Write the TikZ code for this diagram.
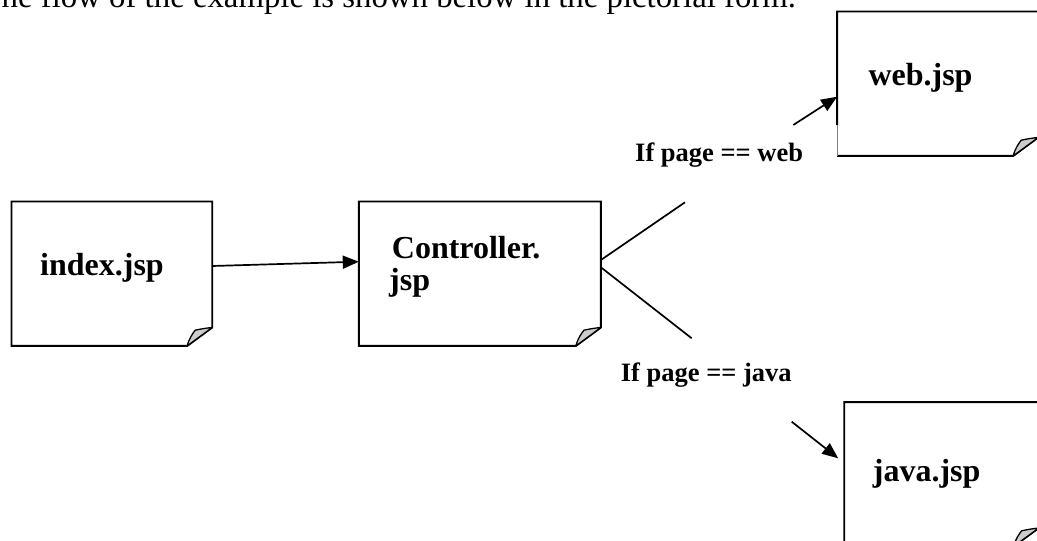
\documentclass[tikz,border=0pt]{standalone}
\usepackage{fontspec}
\setmainfont{Liberation Serif}
\usetikzlibrary{arrows.meta}
\newcommand\drawcurl[1]{%
  \draw[curl] ([xshift=-25pt]#1.south east) .. controls ([xshift=-23pt,yshift=8pt]#1.south east) and ([xshift=-19pt,yshift=13pt]#1.south east) .. ([xshift=-17pt,yshift=15.7pt]#1.south east) .. controls ([xshift=-11pt,yshift=17pt]#1.south east) and ([xshift=-5pt,yshift=18pt]#1.south east) .. ([yshift=18.4pt]#1.south east) -- cycle;}
\newcommand\drawdoc[1]{%
  \draw[boxline] (#1.north west) -- (#1.north east) -- ([yshift=18.4pt]#1.south east) -- ([xshift=-25pt]#1.south east) -- (#1.south west) -- cycle;
  \drawcurl{#1}}
\begin{document}
\begin{tikzpicture}[x=1pt,y=-1pt,
  boxline/.style={line width=1.9pt, line join=miter},
  curl/.style={fill=gray!40, draw=black, line width=1.3pt, line join=round},
  conn/.style={line width=1.7pt},
  arr/.style={conn, -{Triangle[length=16pt,width=13pt]}},
  doc/.style={rectangle, draw=none, inner sep=0pt, minimum width=#1, minimum height=144pt},
  boxtext/.style={font=\fontsize{32}{38}\selectfont\bfseries, inner sep=0pt, anchor=base west},
  lbl/.style={font=\fontsize{26.5}{30}\selectfont\bfseries, inner sep=0pt, anchor=base west},
  toptext/.style={font=\fontsize{32.8}{38}\selectfont, inner sep=0pt, anchor=base west},
]
\useasboundingbox (0,0) rectangle (1037,541);
\clip (0,0) rectangle (1037,541);
\fill[white] (0,0) rectangle (1037,541);

% top sentence (cut off)
\node[toptext] (intro) at (-18.5,7) {The flow of the example is shown below in the pictorial form.};

% documents
\node[doc=200.3pt] (index) at (111.85,273.7) {};
\node[doc=241.7pt] (ctrl) at (479.85,273.7) {};
\node[doc=200.7pt] (web) at (937.65,83.7) {};
\node[doc=194pt] (java) at (941.4,474.3) {};

\drawdoc{index}
\drawdoc{ctrl}
\drawdoc{java}
\draw[boxline] ([yshift=30.7pt]web.south west) -- (web.north west) -- (web.north east) -- ([yshift=18.4pt]web.south east) -- ([xshift=-25pt]web.south east) -- (web.south west);
\draw[line width=0.7pt, gray] (web.south west) -- ([yshift=30.7pt]web.south west);
\drawcurl{web}

% texts
\node[boxtext] (indextext) at (40,275) {index.jsp};
\node[boxtext] (ctrltexta) at (391.7,258.3) {Controller.};
\node[boxtext] (ctrltextb) at (389,290) {jsp};
\node[boxtext] (webtext) at (868.3,85) {web.jsp};
\node[boxtext] (javatext) at (872.7,481.7) {java.jsp};

\node[lbl] (weblbl) at (635,161.7) {If page == web};
\node[lbl] (javalbl) at (620.7,381.7) {If page == java};

% connectors
\coordinate (brup) at (685,202.3);
\coordinate (brdn) at (691.7,338.3);
\coordinate (wstart) at (793.3,125);
\coordinate (jstart) at (791.7,421.7);

\draw[arr] ([yshift=7.7pt]index.east) -- ([yshift=12pt]ctrl.west);
\draw[conn] ([yshift=13.7pt]ctrl.east) -- (brup);
\draw[conn] ([yshift=6.4pt]ctrl.east) -- (brdn);
\draw[arr] (wstart) -- ([yshift=-13pt]web.west);
\draw[arr] (jstart) -- ([xshift=-6pt,yshift=16pt]java.west);
\end{tikzpicture}
\end{document}
